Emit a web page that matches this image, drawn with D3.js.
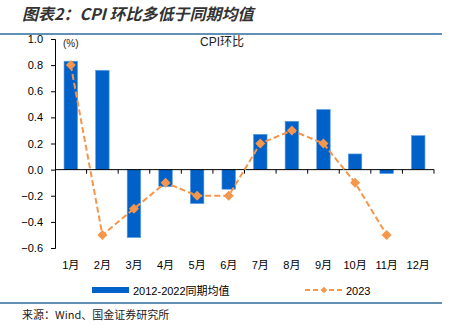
<!DOCTYPE html>
<html>
<head>
<meta charset="utf-8">
<title>CPI环比</title>
<script src="https://d3js.org/d3.v7.min.js"></script>
<style>
    body { margin: 0; background: #fff; }
    text { font-family: "Liberation Sans", Arial, "Noto Sans CJK SC", sans-serif; }
</style>
</head>
<body>
<script>
    // 月份、均值与2023年数据
    var months = ["1月","2月","3月","4月","5月","6月","7月","8月","9月","10月","11月","12月"];
    var avgValues = [0.83, 0.76, -0.52, -0.13, -0.26, -0.15, 0.27, 0.37, 0.46, 0.12, -0.03, 0.26];
    var values2023 = [0.8, -0.5, -0.3, -0.1, -0.2, -0.2, 0.2, 0.3, 0.2, -0.1, -0.5];
    var yTicks = [1.0, 0.8, 0.6, 0.4, 0.2, 0.0, -0.2, -0.4, -0.6];

    var w = 460, h = 328;
    var plotLeft = 55, plotRight = 434, plotTop = 39, plotBottom = 248;
    var blue = "#0062c8", orange = "#f5964a";

    var svg = d3.select("body").append("svg")
                .attr("width", w)
                .attr("height", h);

    // 标题
    svg.append("text")
        .attr("x", 22).attr("y", 20)
        .attr("font-size", 16).attr("font-weight", "bold").attr("font-style", "italic")
        .attr("fill", "#333")
        .style("font-family", "'Noto Sans CJK SC', sans-serif")
        .text("图表2：CPI 环比多低于同期均值");
    svg.append("line")
        .attr("x1", 0).attr("x2", 442).attr("y1", 34).attr("y2", 34)
        .attr("stroke", "#2f6d9c").attr("stroke-width", 1.5);

    var x = d3.scaleBand().domain(months).range([plotLeft, plotRight]);
    var y = d3.scaleLinear().domain([-0.6, 1.0]).range([plotBottom, plotTop]);

    // y轴
    var yAxis = svg.append("g")
        .attr("transform", "translate(" + plotLeft + ",0)")
        .call(d3.axisLeft(y).tickValues(yTicks).tickFormat(d3.format(".1f")).tickSize(4).tickPadding(8));
    yAxis.select(".domain").attr("stroke", "#000");
    yAxis.selectAll("text").attr("font-size", 11).attr("fill", "#000");

    // 柱子
    svg.selectAll("rect.bar")
        .data(avgValues)
        .enter()
        .append("rect")
        .attr("class", "bar")
        .attr("x", function(d, i) { return x(months[i]) + x.bandwidth() / 2 - 6.75; })
        .attr("width", 13.5)
        .attr("y", function(d) { return y(Math.max(0, d)); })
        .attr("height", function(d) { return Math.abs(y(d) - y(0)); })
        .attr("fill", blue)
        .attr("stroke", "#5b9be0").attr("stroke-width", 0.6);

    // 零轴及刻度
    svg.append("line")
        .attr("x1", plotLeft).attr("x2", plotRight).attr("y1", y(0)).attr("y2", y(0))
        .attr("stroke", "#000");
    var bounds = months.map(function(m) { return x(m); }).concat([plotRight]);
    svg.selectAll("line.xtick")
        .data(bounds.slice(1))
        .enter()
        .append("line")
        .attr("class", "xtick")
        .attr("x1", function(d) { return d; }).attr("x2", function(d) { return d; })
        .attr("y1", y(0)).attr("y2", y(0) + 4)
        .attr("stroke", "#000");

    // 月份标签
    svg.selectAll("text.xlab")
        .data(months)
        .enter()
        .append("text")
        .attr("class", "xlab")
        .attr("x", function(d) { return x(d) + x.bandwidth() / 2; })
        .attr("y", 269)
        .attr("text-anchor", "middle")
        .attr("font-size", 11)
        .attr("fill", "#000")
        .text(function(d) { return d; });

    // 2023年折线
    var line = d3.line()
        .x(function(d, i) { return x(months[i]) + x.bandwidth() / 2; })
        .y(function(d) { return y(d); });
    svg.append("path")
        .datum(values2023)
        .attr("d", line)
        .attr("fill", "none")
        .attr("stroke", orange)
        .attr("stroke-width", 2)
        .attr("stroke-dasharray", "6,3");
    // 菱形标记：正方形旋转45度
    svg.selectAll("path.dot")
        .data(values2023)
        .enter()
        .append("path")
        .attr("class", "dot")
        .attr("d", d3.symbol().type(d3.symbolSquare).size(50))
        .attr("transform", function(d, i) {
            return "translate(" + (x(months[i]) + x.bandwidth() / 2) + "," + y(d) + ") rotate(45)";
        })
        .attr("fill", orange);

    // 单位与图内标题
    svg.append("text").attr("x", 63).attr("y", 47).attr("font-size", 10).attr("fill", "#222").text("(%)");
    svg.append("text").attr("x", 200).attr("y", 46).attr("font-size", 12).attr("fill", "#222").text("CPI环比");

    // 图例
    svg.append("rect").attr("x", 92).attr("y", 287).attr("width", 37).attr("height", 6).attr("fill", blue);
    svg.append("text").attr("x", 133).attr("y", 295).attr("font-size", 11).attr("fill", "#000").text("2012-2022同期均值");
    svg.append("line").attr("x1", 305).attr("x2", 343).attr("y1", 290).attr("y2", 290)
        .attr("stroke", orange).attr("stroke-width", 2).attr("stroke-dasharray", "5,3");
    svg.append("path").attr("d", d3.symbol().type(d3.symbolSquare).size(20))
        .attr("transform", "translate(324,290) rotate(45)").attr("fill", orange);
    svg.append("text").attr("x", 346).attr("y", 295).attr("font-size", 11).attr("fill", "#000").text("2023");

    // 底部分隔线与来源
    svg.append("line")
        .attr("x1", 0).attr("x2", 442).attr("y1", 303).attr("y2", 303)
        .attr("stroke", "#2f6d9c").attr("stroke-width", 1.5);
    svg.append("text")
        .attr("x", 22).attr("y", 319)
        .attr("font-size", 11).attr("fill", "#222")
        .style("font-family", "'Noto Sans CJK SC', sans-serif")
        .text("来源：Wind、国金证券研究所");
</script>
</body>
</html>
